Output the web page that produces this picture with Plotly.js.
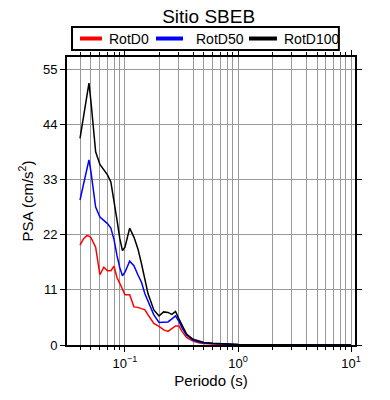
<!DOCTYPE html>
<html>
<head>
<meta charset="utf-8">
<script src="https://cdn.plot.ly/plotly-3.0.1.min.js"></script>
<style>html,body{margin:0;padding:0;background:#fff;}#chart{width:390px;height:400px;}</style>
</head>
<body>
<div id="chart"></div>
<script>
const periods = [0.04,0.043,0.046,0.048,0.05,0.055,0.06,0.065,0.07,0.075,0.08,0.085,0.09,0.095,0.1,0.11,0.12,0.13,0.14,0.15,0.16,0.18,0.2,0.22,0.24,0.26,0.28,0.3,0.32,0.35,0.4,0.45,0.5,0.6,0.75,1.0,1.5,2,3,5,7.5,10];
const rotD0 = [19.9,21.2,21.8,21.7,21.4,19.5,14.0,15.5,14.8,14.8,15.7,13.4,12.3,11.0,10.0,10.0,7.6,7.5,7.3,7.0,6.0,4.3,3.7,3.0,2.7,3.2,3.8,3.8,2.7,1.5,0.8,0.45,0.3,0.2,0.12,0.06,0.04,0.03,0.02,0.01,0.01,0.01];
const rotD50 = [28.9,32.0,35.5,36.9,34.5,27.5,25.5,24.9,24.2,23.3,21.0,17.8,15.4,13.8,14.5,16.7,15.8,14.0,12.5,10.2,8.6,6.0,4.5,4.6,4.6,5.2,5.8,4.7,3.4,2.0,1.0,0.6,0.4,0.28,0.15,0.08,0.05,0.04,0.03,0.02,0.01,0.01];
const rotD100 = [41.2,45.5,49.5,52.2,48.5,38.5,36.0,34.8,33.9,32.5,28.9,24.9,21.2,18.8,19.5,23.3,21.5,19.2,16.2,12.7,10.2,7.0,5.8,6.6,6.5,6.1,6.7,5.2,3.8,2.2,1.15,0.75,0.5,0.35,0.2,0.1,0.06,0.05,0.04,0.02,0.02,0.01];
const seriesNames = ["RotD0","RotD50","RotD100"];
const seriesColors = ["#ff0000","#0000ff","#000000"];
const yTicks = [0,11,22,33,44,55];
const xMajor = [0.1,1,10];
const xMajorText = ["10<sup>\u22121</sup>","10<sup>0</sup>","10<sup>1</sup>"];
const xMinor = [0.04,0.05,0.06,0.07,0.08,0.09,0.2,0.3,0.4,0.5,0.6,0.7,0.8,0.9,2,3,4,5,6,7,8,9];

const allSeries = [rotD0, rotD50, rotD100];
const traces = allSeries.map((vals,i)=>({
  x: periods, y: vals, type:'scatter', mode:'lines', name: seriesNames[i],
  showlegend:false, line:{color: seriesColors[i], width:1.5}
}));

// legend box drawn in paper coordinates (layout, not data)
const legBox = {x0:0.0174, x1:0.944, y0:1.024, y1:1.104};
const legMidY = 1.0642;
const legKeys = [[0.0451,0.1215,0.1424],[0.309,0.4028,0.4444],[0.632,0.729,0.75]];
const shapes = [{type:'rect', xref:'paper', yref:'paper', x0:legBox.x0, x1:legBox.x1, y0:legBox.y0, y1:legBox.y1,
  line:{color:'#000', width:2}, fillcolor:'#fff', layer:'above'}];
const annotations = [];
seriesNames.forEach((n,i)=>{
  shapes.push({type:'line', xref:'paper', yref:'paper', x0:legKeys[i][0], x1:legKeys[i][1], y0:legMidY, y1:legMidY,
    line:{color:seriesColors[i], width:4}, layer:'above'});
  annotations.push({xref:'paper', yref:'paper', x:legKeys[i][2], y:legMidY, xanchor:'left', yanchor:'middle',
    text:n, showarrow:false, font:{size:14, color:'#000'}, borderpad:0});
});

const layout = {
  width:390, height:400,
  margin:{l:67,r:35,t:57,b:55},
  paper_bgcolor:'#fff', plot_bgcolor:'#fff',
  font:{family:'Liberation Sans, Arial, sans-serif', color:'#000', size:13},
  title:{text:'Sitio SBEB', font:{size:19}, x:0.535, xanchor:'center', y:0.958, yanchor:'middle'},
  showlegend:false,
  shapes: shapes,
  annotations: annotations,
  xaxis:{type:'log', range:[-1.513,1.035],
    tickmode:'array', tickvals:xMajor, ticktext:xMajorText,
    ticks:'outside', ticklen:5, tickcolor:'#000', tickwidth:1,
    showgrid:true, gridcolor:'#999', gridwidth:1,
    showline:true, linecolor:'#000', linewidth:2, mirror:'allticks',
    zeroline:false,
    minor:{tickmode:'array', tickvals:xMinor, ticks:'outside', ticklen:3, tickcolor:'#000', showgrid:true, gridcolor:'#999', gridwidth:1},
    title:{text:'Periodo (s)', font:{size:15}, standoff:6},
    tickfont:{size:13}
  },
  yaxis:{range:[0,57.4], tickmode:'array', tickvals:yTicks,
    ticks:'outside', ticklen:5, tickcolor:'#000',
    showgrid:true, gridcolor:'#999', gridwidth:1,
    showline:true, linecolor:'#000', linewidth:2, mirror:'ticks',
    zeroline:false,
    title:{text:'PSA (cm/s<sup>2</sup>)', font:{size:15}, standoff:6},
    tickfont:{size:13}
  }
};
Plotly.newPlot('chart', traces, layout, {displayModeBar:false, staticPlot:true});
</script>
</body>
</html>
